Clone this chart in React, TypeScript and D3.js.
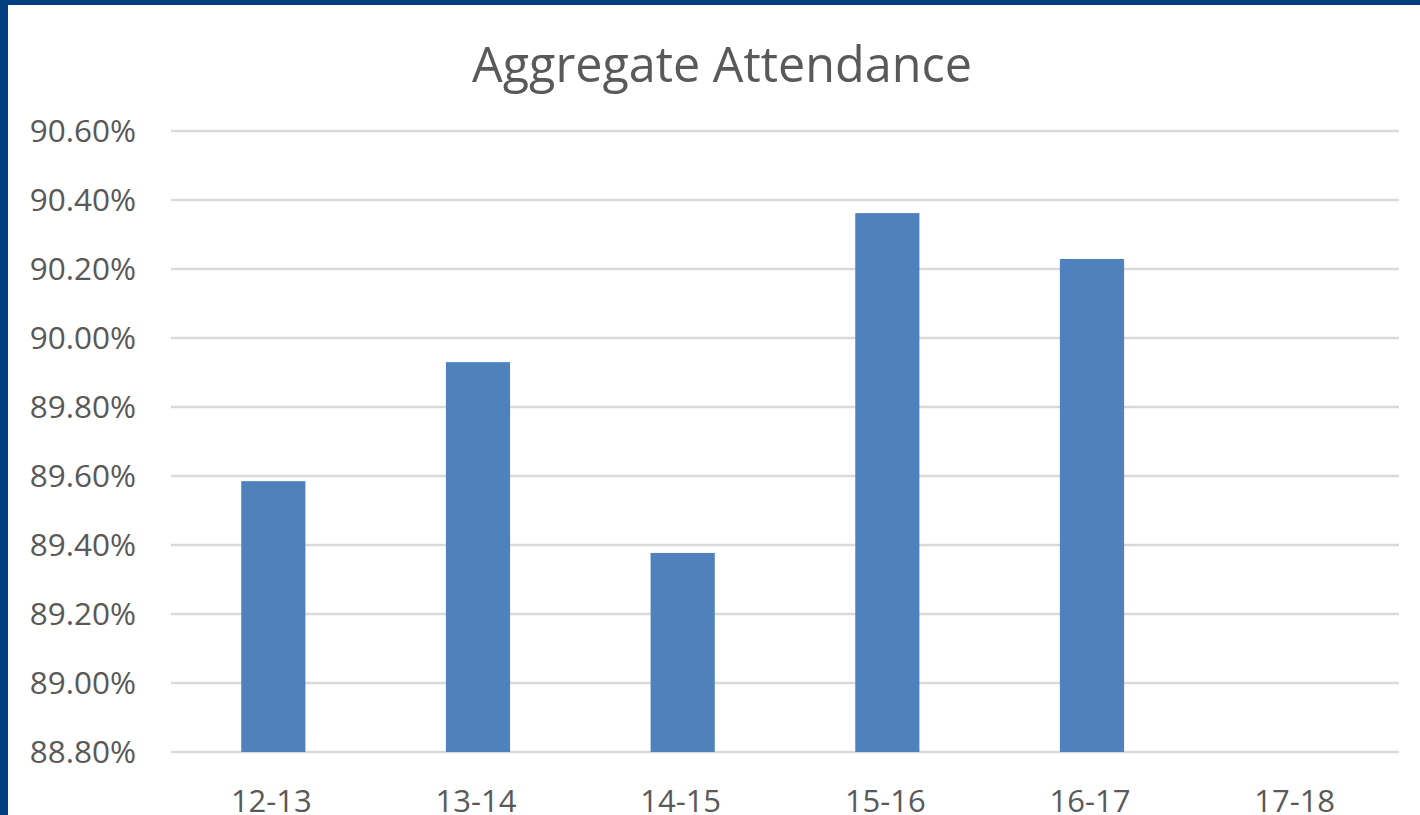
import React, { useEffect, useRef } from "react";
import * as d3 from "d3";

const categories = ["12-13", "13-14", "14-15", "15-16", "16-17", "17-18"];
const values: (number | null)[] = [89.585, 89.93, 89.377, 90.362, 90.229, null];
const yTicks = [88.8, 89.0, 89.2, 89.4, 89.6, 89.8, 90.0, 90.2, 90.4, 90.6];
const title = "Aggregate Attendance";

const W = 1420;
const H = 815;
const FONT = "'Open Sans', 'DejaVu Sans', sans-serif";

export default function App() {
  const ref = useRef<SVGSVGElement | null>(null);

  useEffect(() => {
    const svg = d3.select(ref.current);
    svg.selectAll("*").remove();

    const left = 171, right = 1399, top = 131, bottom = 752;

    svg.append("rect").attr("x", 0).attr("y", 0).attr("width", W).attr("height", H).attr("fill", "#ffffff");
    // border
    svg.append("rect").attr("x", 0).attr("y", 0).attr("width", W).attr("height", 5).attr("fill", "#023F80");
    svg.append("rect").attr("x", 0).attr("y", 0).attr("width", 8).attr("height", H).attr("fill", "#023F80");

    const x = d3.scaleBand<string>().domain(categories).range([left, right]).paddingInner(0).paddingOuter(0);
    const y = d3.scaleLinear().domain([88.8, 90.6]).range([bottom, top]);

    const g = svg.append("g");
    g.selectAll("line.grid")
      .data(yTicks)
      .join("line")
      .attr("x1", left)
      .attr("x2", right)
      .attr("y1", (d) => y(d))
      .attr("y2", (d) => y(d))
      .attr("stroke", "#D9D9D9")
      .attr("stroke-width", 2.5);

    g.selectAll("text.ytick")
      .data(yTicks)
      .join("text")
      .attr("x", 136)
      .attr("y", (d) => y(d))
      .attr("dy", "0.36em")
      .attr("text-anchor", "end")
      .attr("fill", "#595959")
      .attr("font-family", FONT)
      .attr("font-size", 31.5)
      .text((d) => d3.format(".2f")(d) + "%");

    const bw = x.bandwidth() / 3.19;
    g.selectAll("rect.bar")
      .data(categories.map((c, i) => ({ c, v: values[i] })).filter((d) => d.v !== null))
      .join("rect")
      .attr("x", (d) => (x(d.c) as number) + x.bandwidth() / 2 - bw / 2)
      .attr("width", bw)
      .attr("y", (d) => y(d.v as number))
      .attr("height", (d) => bottom - y(d.v as number))
      .attr("fill", "#4F81BD");

    g.selectAll("text.xtick")
      .data(categories)
      .join("text")
      .attr("x", (d) => (x(d) as number) + x.bandwidth() / 2 - 2)
      .attr("y", 812)
      .attr("text-anchor", "middle")
      .attr("fill", "#595959")
      .attr("font-family", FONT)
      .attr("font-size", 31)
      .text((d) => d);

    svg.append("text")
      .attr("x", 722)
      .attr("y", 82)
      .attr("text-anchor", "middle")
      .attr("fill", "#595959")
      .attr("font-family", FONT)
      .attr("font-size", 48.5)
      .text(title);
  }, []);

  return (
    <svg
      ref={ref}
      width={W}
      height={H}
      style={{ position: "absolute", left: 0, top: 0, display: "block" }}
    />
  );
}
